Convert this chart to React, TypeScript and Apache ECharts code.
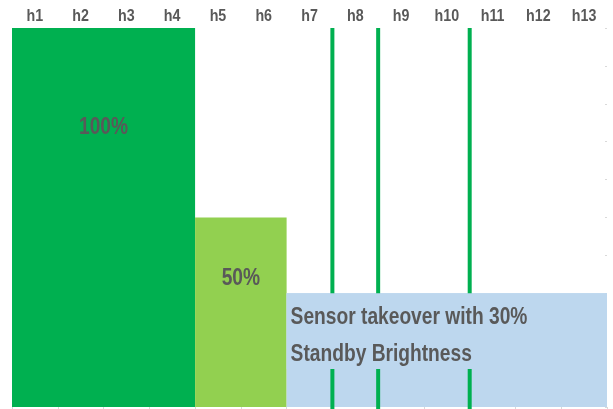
import React, { useEffect, useRef } from "react";
import * as echarts from "echarts";

const categories = ["h1", "h2", "h3", "h4", "h5", "h6", "h7", "h8", "h9", "h10", "h11", "h12", "h13"];
const brightness = [100, 100, 100, 100, 50, 50, 30, 30, 30, 30, 30, 30, 30];
const segmentLabels = ["100%", "50%", "Sensor takeover with 30%\nStandby Brightness"];
const labelLevels = [74.3, 34.4, 19.1];
const sensorBoundaries = [7, 8, 10];
const standbyBoxRange = [10, 30];

const segmentColors = ["#00B050", "#92D050", "#BDD7EE"];
const textColor = "#595959";
const FONT = "'Liberation Sans', Arial, sans-serif";

function buildSegments() {
  const segs: number[][] = [];
  let start = 0;
  for (let i = 1; i <= brightness.length; i++) {
    if (i === brightness.length || brightness[i] !== brightness[start]) {
      segs.push([start, i - 1, brightness[start]]);
      start = i;
    }
  }
  return segs;
}

export default function App() {
  const ref = useRef<HTMLDivElement>(null);
  useEffect(() => {
    if (!ref.current) return;
    const chart = echarts.init(ref.current, null, { renderer: "svg" });
    const segments = buildSegments();
    const labelData = segments.map((s, i) => [s[0], s[1], labelLevels[i], i]);
    const last = segments[segments.length - 1];
    chart.setOption({
      animation: false,
      grid: { left: 12, right: 6, top: 28, bottom: 2 },
      xAxis: [
        {
          type: "category",
          data: categories,
          position: "top",
          axisLine: { show: false },
          axisTick: { show: false },
          axisLabel: { show: false },
        },
        {
          type: "category",
          data: categories,
          position: "bottom",
          axisLine: { show: false },
          axisTick: { show: true, length: 2, lineStyle: { color: "#d9d9d9" } },
          axisLabel: { show: false },
        },
      ],
      yAxis: {
        type: "value",
        min: 0,
        max: 100,
        interval: 10,
        position: "right",
        axisLine: { show: false },
        axisLabel: { show: false },
        splitLine: { show: false },
        axisTick: { show: true, inside: true, length: 2, lineStyle: { color: "#d9d9d9" } },
      },
      series: [
        {
          type: "custom",
          z: 1,
          encode: { x: 0, y: 2 },
          data: segments.map((s, i) => [s[0], s[1], s[2], i]),
          renderItem: (params: any, api: any) => {
            const s = api.value(0), e = api.value(1), v = api.value(2), ci = api.value(3);
            const bw = api.size([1, 0])[0];
            const p0 = api.coord([s, v]);
            const p1 = api.coord([e, 0]);
            const x = p0[0] - bw / 2;
            return {
              type: "rect",
              shape: { x, y: p0[1], width: p1[0] + bw / 2 - x, height: p1[1] - p0[1] },
              style: { fill: segmentColors[ci] },
            };
          },
        },
        {
          type: "custom",
          z: 2,
          encode: { x: 0 },
          data: sensorBoundaries.map((b) => [b - 1]),
          renderItem: (params: any, api: any) => {
            const c = api.value(0);
            const bw = api.size([1, 0])[0];
            const top = api.coord([c, 100]);
            const bot = api.coord([c, 0]);
            const x = top[0] + bw / 2;
            return {
              type: "line",
              shape: { x1: x, y1: top[1], x2: x, y2: bot[1] + 2 },
              style: { stroke: segmentColors[0], lineWidth: 4 },
            };
          },
        },
        {
          type: "custom",
          z: 3,
          encode: { x: 0, y: 2 },
          data: [[last[0], last[1], standbyBoxRange[1], standbyBoxRange[0]]],
          renderItem: (params: any, api: any) => {
            const s = api.value(0), e = api.value(1);
            const bw = api.size([1, 0])[0];
            const p0 = api.coord([s, api.value(2)]);
            const p1 = api.coord([e, api.value(3)]);
            const x = p0[0] - bw / 2;
            return {
              type: "rect",
              shape: { x, y: p0[1], width: p1[0] + bw / 2 - x, height: p1[1] - p0[1] },
              style: { fill: segmentColors[2] },
            };
          },
        },
        {
          type: "custom",
          z: 4,
          encode: { x: 0, y: 2 },
          data: labelData,
          renderItem: (params: any, api: any) => {
            const s = api.value(0), e = api.value(1), lv = api.value(2), li = api.value(3);
            const bw = api.size([1, 0])[0];
            const p0 = api.coord([s, lv]);
            const p1 = api.coord([e, lv]);
            const isLeft = li === segments.length - 1;
            const x = isLeft ? p0[0] - bw / 2 + 4 : (p0[0] + p1[0]) / 2;
            return {
              type: "text",
              x,
              y: p0[1],
              scaleX: 0.8,
              style: {
                text: segmentLabels[li],
                fill: textColor,
                fontSize: 24,
                fontWeight: "bold",
                fontFamily: FONT,
                align: isLeft ? "left" : "center",
                verticalAlign: "middle",
                lineHeight: 37,
              },
            };
          },
        },
        {
          type: "custom",
          z: 4,
          encode: { x: 0 },
          data: categories.map((c, i) => [i]),
          renderItem: (params: any, api: any) => {
            const i = api.value(0);
            const p = api.coord([i, 100]);
            return {
              type: "text",
              x: p[0],
              y: p[1] - 12.5,
              scaleX: 0.84,
              style: {
                text: categories[i],
                fill: textColor,
                fontSize: 17,
                fontWeight: "bold",
                fontFamily: FONT,
                align: "center",
                verticalAlign: "middle",
              },
            };
          },
        },
      ],
    });
    return () => chart.dispose();
  }, []);
  return <div ref={ref} style={{ position: "fixed", left: 0, top: 0, width: 613, height: 409 }} />;
}
